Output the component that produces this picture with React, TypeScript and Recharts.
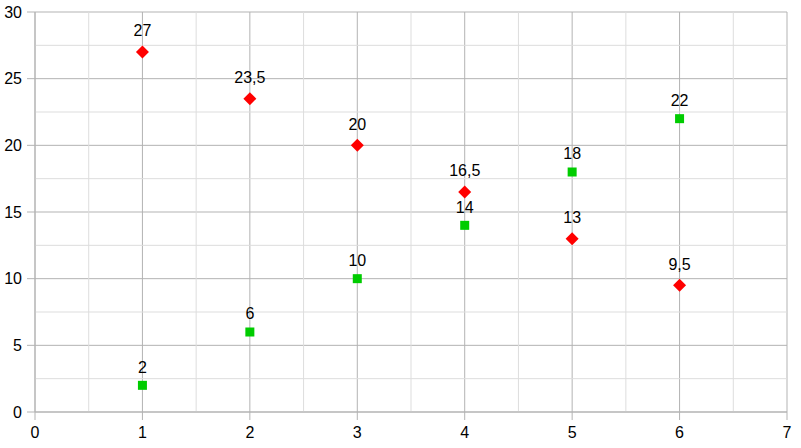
import React from 'react';
import { ScatterChart, Scatter, XAxis, YAxis, CartesianGrid, ReferenceLine, LabelList } from 'recharts';

const redSeries = [
  { x: 1, y: 27 },
  { x: 2, y: 23.5 },
  { x: 3, y: 20 },
  { x: 4, y: 16.5 },
  { x: 5, y: 13 },
  { x: 6, y: 9.5 },
];

const greenSeries = [
  { x: 1, y: 2 },
  { x: 2, y: 6 },
  { x: 3, y: 10 },
  { x: 4, y: 14 },
  { x: 5, y: 18 },
  { x: 6, y: 22 },
];

const xTicks = [0, 1, 2, 3, 4, 5, 6, 7];
const yTicks = [0, 5, 10, 15, 20, 25, 30];
const xMinor = [0.5, 1.5, 2.5, 3.5, 4.5, 5.5, 6.5];
const yMinor = [2.5, 7.5, 12.5, 17.5, 22.5, 27.5];

const FONT = '"Liberation Sans", Arial, sans-serif';
const MAJOR = '#b3b3b3';
const MINOR = '#dddddd';
const FS = 16;

const fmt = (v: any) => String(v).replace('.', ',');

const Diamond = (props: any) => {
  const { cx, cy } = props;
  const r = 6.5;
  return (
    <polygon
      points={`${cx},${cy - r} ${cx + r},${cy} ${cx},${cy + r} ${cx - r},${cy}`}
      fill="#ff0000"
    />
  );
};

const Square = (props: any) => {
  const { cx, cy } = props;
  const s = 9;
  return <rect x={cx - s / 2} y={cy - s / 2} width={s} height={s} fill="#00cc00" />;
};

export default function App() {
  return (
    <div style={{ position: 'absolute', left: 0, top: 0, width: 801, height: 448, background: '#fff' }}>
      <ScatterChart width={801} height={448} margin={{ top: 12, right: 14, bottom: 0, left: 0 }}>
        {xMinor.map((v) => (
          <ReferenceLine key={'xm' + v} x={v} stroke={MINOR} strokeWidth={1} />
        ))}
        {yMinor.map((v) => (
          <ReferenceLine key={'ym' + v} y={v} stroke={MINOR} strokeWidth={1} />
        ))}
        <CartesianGrid stroke={MAJOR} strokeWidth={1} />
        <XAxis
          type="number"
          dataKey="x"
          domain={[0, 7]}
          ticks={xTicks}
          interval={0}
          height={36}
          stroke={MAJOR}
          tickSize={8}
          tickMargin={7}
          tick={{ fill: '#000', fontSize: FS, fontFamily: FONT }}
          tickLine={{ stroke: MAJOR }}
          axisLine={{ stroke: MAJOR }}
        />
        <YAxis
          type="number"
          dataKey="y"
          domain={[0, 30]}
          ticks={yTicks}
          interval={0}
          width={35}
          stroke={MAJOR}
          tickSize={8}
          tickMargin={5}
          tick={{ fill: '#000', fontSize: FS, fontFamily: FONT }}
          tickLine={{ stroke: MAJOR }}
          axisLine={{ stroke: MAJOR }}
        />
        <Scatter data={redSeries} shape={Diamond} isAnimationActive={false}>
          <LabelList
            dataKey="y"
            position="top"
            offset={11}
            formatter={fmt}
            style={{ fill: '#000', fontSize: FS, fontFamily: FONT }}
          />
        </Scatter>
        <Scatter data={greenSeries} shape={Square} isAnimationActive={false}>
          <LabelList
            dataKey="y"
            position="top"
            offset={8}
            formatter={fmt}
            style={{ fill: '#000', fontSize: FS, fontFamily: FONT }}
          />
        </Scatter>
      </ScatterChart>
    </div>
  );
}
